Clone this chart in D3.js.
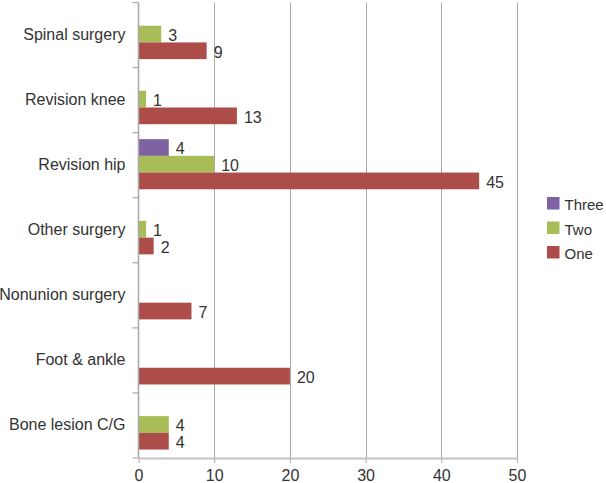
<!DOCTYPE html>
<html><head><meta charset="utf-8">
<script src="https://cdn.jsdelivr.net/npm/d3@7"></script>
<style>
body{margin:0;background:#fff;}
svg{display:block;font-family:"Liberation Sans",Arial,sans-serif;}
</style></head>
<body><div id="chart"></div>
<script>
const categories = ["Spinal surgery","Revision knee","Revision hip","Other surgery","Nonunion surgery","Foot & ankle","Bone lesion C/G"];
const seriesNames = ["Three","Two","One"];
const three = [0,0,4,0,0,0,0];
const two = [3,1,10,1,0,0,4];
const one = [9,13,45,2,7,20,4];
const xTicks = [0,10,20,30,40,50];
const colors = {Three:"#7F62A1", Two:"#A8BD57", One:"#AD4D49"};

const W = 606, H = 483;
const pLeft = 138.5, pRight = 517, pTop = 2.5, pBottom = 458;
const svg = d3.select("#chart").append("svg").attr("width",W).attr("height",H);

const values = {Three:three, Two:two, One:one};
const x = d3.scaleLinear().domain([0,50]).range([pLeft,pRight]);
const y0 = d3.scaleBand().domain(categories).range([pTop,pBottom]);
const bw = y0.bandwidth();
const y1 = d3.scaleBand().domain(seriesNames).range([bw*0.1, bw*0.87]);

// gridlines
svg.append("g").selectAll("line").data(xTicks.slice(1)).join("line")
  .attr("x1",d=>Math.round(x(d))+0.5).attr("x2",d=>Math.round(x(d))+0.5)
  .attr("y1",pTop).attr("y2",pBottom)
  .attr("stroke","#A8A8A8").attr("stroke-width",1);

// bars
const groups = svg.append("g").selectAll("g").data(categories).join("g")
  .attr("transform",d=>`translate(0,${y0(d)})`);
seriesNames.forEach(s=>{
  groups.filter((d,i)=>values[s][i]>0).append("rect")
    .attr("x",x(0)+0.5)
    .attr("y",y1(s))
    .attr("width",(d)=>x(values[s][categories.indexOf(d)])-x(0)-0.5)
    .attr("height",y1.bandwidth())
    .attr("fill",colors[s]);
  groups.filter((d,i)=>values[s][i]>0).append("text")
    .attr("x",(d)=>x(values[s][categories.indexOf(d)])+7)
    .attr("y",y1(s)+y1.bandwidth()/2+1.5)
    .attr("dominant-baseline","central")
    .attr("font-size",16).attr("fill","#333")
    .text(d=>values[s][categories.indexOf(d)]);
});

// left axis
const yAxis = svg.append("g").attr("transform",`translate(${pLeft},0)`);
yAxis.append("line").attr("x1",0).attr("x2",0).attr("y1",pTop).attr("y2",pBottom)
  .attr("stroke","#A8A8A8").attr("stroke-width",1.5);
const bounds = categories.map(c=>y0(c)).concat([pBottom]);
yAxis.selectAll("line.tick").data(bounds).join("line").attr("class","tick")
  .attr("x1",-6).attr("x2",0).attr("y1",d=>d).attr("y2",d=>d)
  .attr("stroke","#A8A8A8").attr("stroke-width",1.2);
yAxis.selectAll("text").data(categories).join("text")
  .attr("x",-13).attr("y",d=>y0(d)+bw/2-1)
  .attr("text-anchor","end").attr("dominant-baseline","central")
  .attr("font-size",16).attr("fill","#333").text(d=>d);

// bottom axis
const xAxis = d3.axisBottom(x).tickValues(xTicks).tickSize(5).tickPadding(7).tickSizeOuter(0);
const gx = svg.append("g").attr("transform",`translate(0,${pBottom})`).call(xAxis);
gx.select(".domain").attr("stroke","#C4C4C4").attr("stroke-width",2);
gx.selectAll(".tick line").attr("stroke","#B8B8B8").attr("stroke-width",1.2);
gx.selectAll(".tick text").attr("font-size",16).attr("fill","#333")
  .attr("font-family","Liberation Sans, Arial, sans-serif");

// legend
const leg = svg.append("g").attr("transform","translate(547,197)");
seriesNames.forEach((s,i)=>{
  const g = leg.append("g").attr("transform",`translate(0,${i*24.5})`);
  g.append("rect").attr("width",12.5).attr("height",12.5).attr("fill",colors[s]);
  g.append("text").attr("x",17.5).attr("y",7.5).attr("dominant-baseline","central")
    .attr("font-size",15).attr("fill","#333").text(s);
});
</script></body></html>
